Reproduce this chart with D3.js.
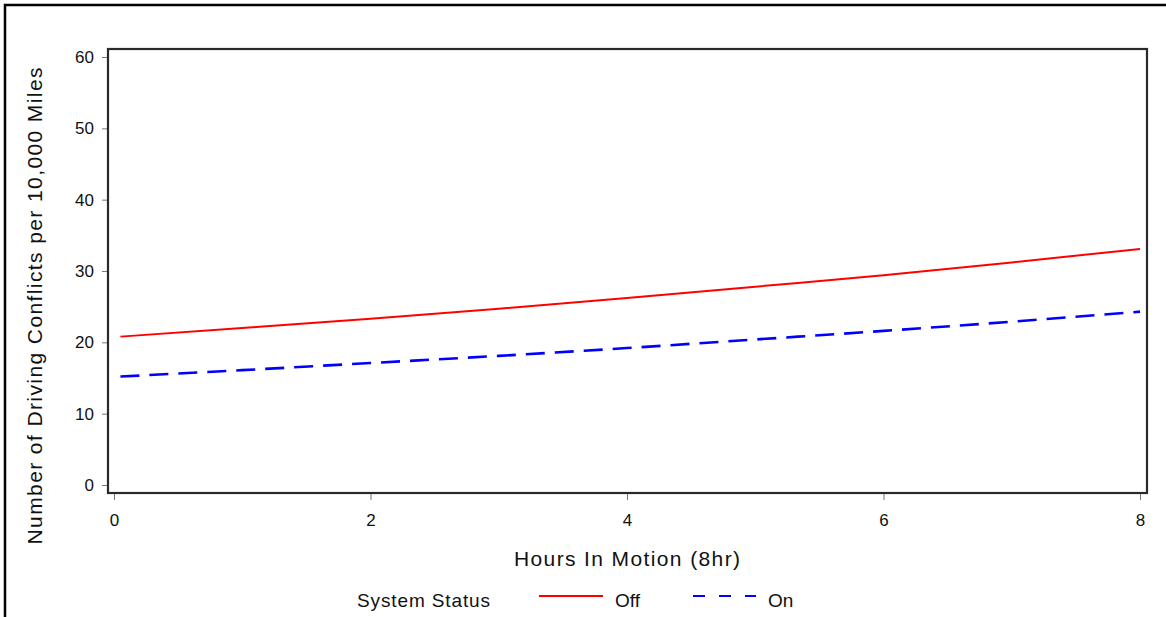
<!DOCTYPE html>
<html>
<head>
<meta charset="utf-8">
<script src="https://cdn.jsdelivr.net/npm/d3@7"></script>
<style>
  html, body { margin: 0; padding: 0; background: #fff; }
  svg { display: block; font-family: "Liberation Sans", Arial, sans-serif; }
</style>
</head>
<body>
<svg id="chart" width="1166" height="617"></svg>
<script>
// Predicted driving conflicts per 10,000 miles over an 8-hour shift
const hours = [0.05, 1, 2, 3, 4, 5, 6, 7, 8];
const offValues = [20.8, 22.0, 23.3, 24.7, 26.2, 27.8, 29.4, 31.2, 33.1];
const onValues  = [15.2, 16.1, 17.1, 18.1, 19.2, 20.4, 21.6, 22.9, 24.3];
const xTicks = [0, 2, 4, 6, 8];
const yTicks = [0, 10, 20, 30, 40, 50, 60];
const seriesNames = ["Off", "On"];
const seriesColors = ["#ff0000", "#0000ff"];

const svg = d3.select("#chart");

// outer frame (top and left edges)
svg.append("path")
  .attr("d", "M5,617 V5 H1166")
  .attr("fill", "none")
  .attr("stroke", "#000")
  .attr("stroke-width", 2.5);

const x = d3.scaleLinear().domain([0, 8]).range([114, 1140]);
const y = d3.scaleLinear().domain([0, 60]).range([485, 57]);

const plot = { left: 108, right: 1147, top: 49, bottom: 493 };

// axes
const xAxis = svg.append("g")
  .attr("transform", `translate(0,${plot.bottom})`)
  .call(d3.axisBottom(x).tickValues(xTicks).tickSize(7).tickPadding(14).tickFormat(d3.format("d")));
const yAxis = svg.append("g")
  .attr("transform", `translate(${plot.left},0)`)
  .call(d3.axisLeft(y).tickValues(yTicks).tickSize(6).tickPadding(8).tickFormat(d3.format("d")));

[xAxis, yAxis].forEach(g => {
  g.attr("font-size", null).attr("font-family", null);
  g.select(".domain").remove();
  g.selectAll(".tick line").attr("stroke", "#777").attr("stroke-width", 1);
  g.selectAll(".tick text")
    .attr("fill", "#111")
    .style("font-size", "17px")
    .style("font-family", "'Liberation Sans', Arial, sans-serif");
});

// plot frame
svg.append("rect")
  .attr("x", plot.left)
  .attr("y", plot.top)
  .attr("width", plot.right - plot.left)
  .attr("height", plot.bottom - plot.top)
  .attr("fill", "none")
  .attr("stroke", "#2a2a2a")
  .attr("stroke-width", 2.2);

// series lines
const line = d3.line()
  .x(d => x(d[0]))
  .y(d => y(d[1]))
  .curve(d3.curveMonotoneX);

svg.append("path")
  .datum(hours.map((h, i) => [h, offValues[i]]))
  .attr("d", line)
  .attr("fill", "none")
  .attr("stroke", seriesColors[0])
  .attr("stroke-width", 2);

svg.append("path")
  .datum(hours.map((h, i) => [h, onValues[i]]))
  .attr("d", line)
  .attr("fill", "none")
  .attr("stroke", seriesColors[1])
  .attr("stroke-width", 2.6)
  .attr("stroke-dasharray", "19,10");

// axis titles
svg.append("text")
  .attr("x", 627)
  .attr("y", 566)
  .attr("text-anchor", "middle")
  .attr("textLength", 226)
  .attr("lengthAdjust", "spacing")
  .style("font-size", "21px")
  .attr("fill", "#111")
  .text("Hours In Motion (8hr)");

svg.append("text")
  .attr("transform", "translate(42,306) rotate(-90)")
  .attr("text-anchor", "middle")
  .attr("textLength", 477)
  .attr("lengthAdjust", "spacing")
  .style("font-size", "21px")
  .attr("fill", "#111")
  .text("Number of Driving Conflicts per 10,000 Miles");

// legend
const legend = svg.append("g");
legend.append("text")
  .attr("x", 357)
  .attr("y", 607)
  .attr("textLength", 133)
  .attr("lengthAdjust", "spacing")
  .style("font-size", "19px")
  .attr("fill", "#111")
  .text("System Status");

const legendItems = [
  { x1: 539, x2: 603, tx: 615, dash: null, width: 2 },
  { x1: 693, x2: 756, tx: 768, dash: "12,14", width: 2.2 }
];
legendItems.forEach((it, i) => {
  legend.append("line")
    .attr("x1", it.x1).attr("x2", it.x2)
    .attr("y1", 596).attr("y2", 596)
    .attr("stroke", seriesColors[i])
    .attr("stroke-width", it.width)
    .attr("stroke-dasharray", it.dash);
  legend.append("text")
    .attr("x", it.tx)
    .attr("y", 607)
    .style("font-size", "19px")
    .attr("fill", "#111")
    .text(seriesNames[i]);
});
</script>
</body>
</html>
